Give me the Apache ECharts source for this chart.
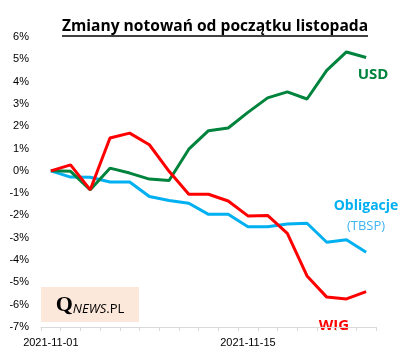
<!DOCTYPE html>
<html><head><meta charset="utf-8">
<script src="https://cdn.jsdelivr.net/npm/echarts@6/dist/echarts.min.js"></script>
<style>html,body{margin:0;padding:0;background:#fff}#c{width:418px;height:358px}</style>
</head><body><div id="c"></div>
<script>
var dates = ['2021-11-01','2021-11-02','2021-11-03','2021-11-04','2021-11-05','2021-11-08','2021-11-09','2021-11-10','2021-11-11','2021-11-12','2021-11-15','2021-11-16','2021-11-17','2021-11-18','2021-11-19','2021-11-22','2021-11-23'];
var wig = [0, 0.27, -0.85, 1.47, 1.69, 1.17, -0.02, -1.05, -1.05, -1.35, -2.02, -2.0, -2.8, -4.71, -5.66, -5.74, -5.41];
var usd = [0, -0.02, -0.85, 0.12, -0.1, -0.37, -0.43, 0.97, 1.8, 1.92, 2.62, 3.27, 3.54, 3.22, 4.5, 5.33, 5.08];
var tbsp = [0, -0.28, -0.29, -0.5, -0.5, -1.15, -1.33, -1.45, -1.95, -1.95, -2.51, -2.51, -2.38, -2.35, -3.2, -3.09, -3.65];
var yMin = -7, yMax = 6;

var chart = echarts.init(document.getElementById('c'));
var F = 'Liberation Sans';
chart.setOption({
  animation: false,
  grid: {left: 41, right: 42, top: 37, bottom: 31},
  xAxis: [{
    type: 'category', data: dates, boundaryGap: true,
    axisLine: {show: false}, axisTick: {show: false},
    axisLabel: {interval: 9, color: '#000', fontFamily: F, fontSize: 11, margin: 10}
  }, {
    type: 'category', data: dates, boundaryGap: true, position: 'bottom',
    axisLine: {show: true, onZero: true, lineStyle: {color: '#d9d9d9', width: 1}},
    axisTick: {show: true, length: 4, interval: 0, lineStyle: {color: '#d9d9d9'}},
    axisLabel: {show: false}
  }],
  yAxis: {
    type: 'value', min: yMin, max: yMax, interval: 1,
    axisLine: {show: false}, axisTick: {show: false}, splitLine: {show: false},
    axisLabel: {formatter: '{value}%', color: '#000', fontFamily: F, fontSize: 11, margin: 12}
  },
  series: [
    {name: 'USD', type: 'line', data: usd, symbol: 'none', lineStyle: {color: '#00843d', width: 3}, z: 3},
    {name: 'Obligacje', type: 'line', data: tbsp, symbol: 'none', lineStyle: {color: '#00b0f0', width: 3}, z: 2},
    {name: 'WIG', type: 'line', data: wig, symbol: 'none', lineStyle: {color: '#ff0000', width: 3}, z: 4}
  ],
  graphic: [
    {type: 'text', x: 215, y: 27, style: {text: 'Zmiany notowań od początku listopada', font: 'bold 15.6px "Open Sans"', fill: '#000', align: 'center', verticalAlign: 'middle'}},
    {type: 'line', shape: {x1: 62, y1: 36, x2: 368, y2: 36}, style: {stroke: '#000', lineWidth: 1.3}},
    {type: 'text', x: 373, y: 75, style: {text: 'USD', font: 'bold 15px "Open Sans"', fill: '#00843d', align: 'center', verticalAlign: 'middle'}},
    {type: 'text', x: 366, y: 206, style: {text: 'Obligacje', font: 'bold 14px "Open Sans"', fill: '#00b0f0', align: 'center', verticalAlign: 'middle'}},
    {type: 'text', x: 366, y: 226, style: {text: '(TBSP)', font: '13px "Open Sans"', fill: '#3fb4f0', align: 'center', verticalAlign: 'middle'}},
    {type: 'text', x: 334, y: 326, style: {text: 'WIG', font: 'bold 15px "Open Sans"', fill: '#ff0000', align: 'center', verticalAlign: 'middle'}},
    {type: 'rect', shape: {x: 41, y: 287, width: 98, height: 35}, style: {fill: '#fce8da'}},
    {type: 'text', x: 90, y: 305, style: {
      text: '{q|Q}{n|NEWS}{p|.PL}', align: 'center', verticalAlign: 'middle',
      rich: {
        q: {font: 'bold 22px "Liberation Serif"', fill: '#000', verticalAlign: 'bottom'},
        n: {font: 'italic 13px "Open Sans"', fill: '#000', verticalAlign: 'bottom'},
        p: {font: '13px "Open Sans"', fill: '#000', verticalAlign: 'bottom'}
      }}}
  ]
});
</script></body></html>
